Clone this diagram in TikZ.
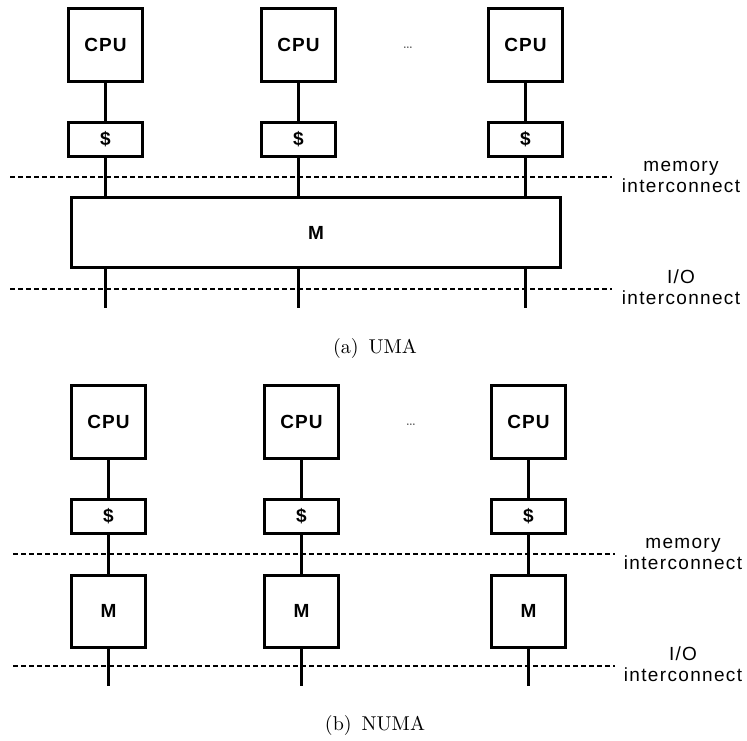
\documentclass[tikz,border=0pt]{standalone}
\usepackage{fontspec}
\usetikzlibrary{positioning}
\newfontfamily\boxfont[LetterSpace=6]{Liberation Sans}
\newfontfamily\labelfont[LetterSpace=7]{Liberation Sans}

\tikzstyle{cpubox}=[rectangle, draw=black, line width=1.5pt, minimum width=37pt, minimum height=36.5pt, inner sep=1pt, font=\boxfont\bfseries\fontsize{9.5}{11}\selectfont]
\tikzstyle{cachebox}=[cpubox, minimum height=17pt]
\tikzstyle{membox}=[cpubox, minimum height=36pt]
\tikzstyle{wire}=[line width=1.25pt]
\tikzstyle{bus}=[line width=1.25pt, dash pattern=on 2.5pt off 1.5pt]
\tikzstyle{buslabel}=[align=center, inner sep=0pt, font=\labelfont\fontsize{9.5}{10.5}\selectfont]
\tikzstyle{dots}=[inner sep=0pt, text=black!70, font=\fontsize{7}{8}\selectfont]

\begin{document}
\begin{tikzpicture}[x=0.5pt, y=-0.5pt, node distance = 47.25pt]
\useasboundingbox (0,0) rectangle (747,740);

% (a) UMA
\coordinate (memAL) at (10,177);
\coordinate (memAR) at (612,177);
\coordinate (ioAL) at (10,289);
\coordinate (ioAR) at (612,289);
\draw[bus] (memAL) -- (memAR);
\draw[bus] (ioAL) -- (ioAR);
\node (memlabelA) [buslabel] at (681,177) {memory\\interconnect};
\node (iolabelA) [buslabel] at (681,287) {I/O\\interconnect};

\node (cpuA1) [cpubox] at (105.5,45) {CPU};
\node (cpuA2) [cpubox] at (298.5,45) {CPU};
\node (cpuA3) [cpubox] at (525.5,45) {CPU};
\node (dotsA) [dots] at (408,48) {\ldots};
\node (cacheA1) [cachebox, below of = cpuA1] {\$};
\node (cacheA2) [cachebox, below of = cpuA2] {\$};
\node (cacheA3) [cachebox, below of = cpuA3] {\$};
\node (memA) [cpubox, minimum width=244.5pt, minimum height=35pt] at (316,232.5) {M};
\coordinate (endA1) at (105.5,308);
\coordinate (endA2) at (298.5,308);
\coordinate (endA3) at (525.5,308);

\draw[wire] (cpuA1) -- (cacheA1);
\draw[wire] (cpuA2) -- (cacheA2);
\draw[wire] (cpuA3) -- (cacheA3);
\draw[wire] (cacheA1) -- (cacheA1 |- memA.north);
\draw[wire] (cacheA2) -- (cacheA2 |- memA.north);
\draw[wire] (cacheA3) -- (cacheA3 |- memA.north);
\draw[wire] (endA1 |- memA.south) -- (endA1);
\draw[wire] (endA2 |- memA.south) -- (endA2);
\draw[wire] (endA3 |- memA.south) -- (endA3);
\node (capA) [anchor=base] at (375,353) {(a)\enspace UMA};

% (b) NUMA
\coordinate (memBL) at (13,554);
\coordinate (memBR) at (615,554);
\coordinate (ioBL) at (13,666);
\coordinate (ioBR) at (615,666);
\draw[bus] (memBL) -- (memBR);
\draw[bus] (ioBL) -- (ioBR);
\node (memlabelB) [buslabel] at (683,554) {memory\\interconnect};
\node (iolabelB) [buslabel] at (683,664) {I/O\\interconnect};

\node (cpuB1) [cpubox] at (108.5,422) {CPU};
\node (cpuB2) [cpubox] at (301.5,422) {CPU};
\node (cpuB3) [cpubox] at (528.5,422) {CPU};
\node (dotsB) [dots] at (411,425) {\ldots};
\node (cacheB1) [cachebox, below of = cpuB1] {\$};
\node (cacheB2) [cachebox, below of = cpuB2] {\$};
\node (cacheB3) [cachebox, below of = cpuB3] {\$};
\node (memB1) [membox, below of = cacheB1] {M};
\node (memB2) [membox, below of = cacheB2] {M};
\node (memB3) [membox, below of = cacheB3] {M};
\coordinate (endB1) at (108.5,686);
\coordinate (endB2) at (301.5,686);
\coordinate (endB3) at (528.5,686);

\draw[wire] (cpuB1) -- (cacheB1);
\draw[wire] (cpuB2) -- (cacheB2);
\draw[wire] (cpuB3) -- (cacheB3);
\draw[wire] (cacheB1) -- (memB1);
\draw[wire] (cacheB2) -- (memB2);
\draw[wire] (cacheB3) -- (memB3);
\draw[wire] (memB1) -- (endB1);
\draw[wire] (memB2) -- (endB2);
\draw[wire] (memB3) -- (endB3);
\node (capB) [anchor=base] at (375,730) {(b)\enspace NUMA};
\end{tikzpicture}
\end{document}
